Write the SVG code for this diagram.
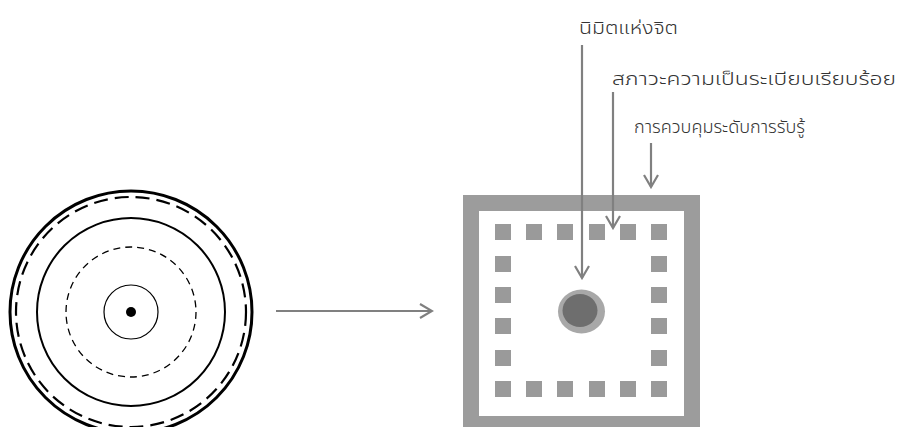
<svg xmlns="http://www.w3.org/2000/svg" width="898" height="427" viewBox="0 0 898 427">
<defs>
<style>
.lbl{font-family:Tahoma,"Noto Sans Thai","Noto Sans","DejaVu Sans",sans-serif;font-size:17px;font-weight:300;fill:#333}
.con{stroke:#808080;stroke-width:2.2;fill:none}
.sq{fill:#9a9a9a}
.ring{fill:none;stroke:#000}
</style>
<marker id="ah" viewBox="0 0 16 16" refX="14" refY="8" markerWidth="16" markerHeight="16" markerUnits="userSpaceOnUse" orient="auto">
<path d="M2,1 L14,8 L2,15" fill="none" stroke="#808080" stroke-width="2.2"/>
</marker>
</defs>
<rect width="898" height="427" fill="#fff"/>
<g id="rings">
<circle class="ring" cx="131" cy="312" r="121" stroke-width="3"/>
<circle class="ring" cx="131" cy="312" r="115" stroke-width="2.2" stroke-dasharray="14,7"/>
<circle class="ring" cx="131" cy="312" r="94" stroke-width="2"/>
<circle class="ring" cx="131" cy="312" r="65" stroke-width="1.3" stroke-dasharray="7,5"/>
<circle class="ring" cx="131" cy="312" r="27" stroke-width="1.2"/>
<circle cx="131" cy="312" r="5" fill="#000"/>
</g>
<g id="field">
<rect x="471" y="203" width="221" height="221" fill="#fff" stroke="#9c9c9c" stroke-width="16"/>
<g class="sq">
<rect x="495" y="224" width="16" height="16"/><rect x="526" y="224" width="16" height="16"/><rect x="557" y="224" width="16" height="16"/><rect x="589" y="224" width="16" height="16"/><rect x="620" y="224" width="16" height="16"/><rect x="651" y="224" width="16" height="16"/>
<rect x="495" y="256" width="16" height="16"/><rect x="651" y="256" width="16" height="16"/>
<rect x="495" y="287" width="16" height="16"/><rect x="651" y="287" width="16" height="16"/>
<rect x="495" y="318" width="16" height="16"/><rect x="651" y="318" width="16" height="16"/>
<rect x="495" y="350" width="16" height="16"/><rect x="651" y="350" width="16" height="16"/>
<rect x="495" y="381" width="16" height="16"/><rect x="526" y="381" width="16" height="16"/><rect x="557" y="381" width="16" height="16"/><rect x="589" y="381" width="16" height="16"/><rect x="620" y="381" width="16" height="16"/><rect x="651" y="381" width="16" height="16"/>
</g>
<ellipse cx="581.5" cy="311.5" rx="23.5" ry="22" fill="#a8a8a8"/>
<ellipse cx="580" cy="310.5" rx="17.5" ry="16.5" fill="#6e6e6e"/>
</g>
<g id="label-nimit"><text class="lbl" x="579" y="34" textLength="99" lengthAdjust="spacingAndGlyphs">นิมิตแห่งจิต</text></g>
<g id="label-order"><text class="lbl" x="612" y="85" textLength="284" lengthAdjust="spacingAndGlyphs">สภาวะความเป็นระเบียบเรียบร้อย</text></g>
<g id="label-control"><text class="lbl" x="634" y="133" textLength="171" lengthAdjust="spacingAndGlyphs">การควบคุมระดับการรับรู้</text></g>
<g id="connectors">
<line class="con" x1="276" y1="311" x2="432" y2="311" marker-end="url(#ah)"/>
<line class="con" x1="582" y1="45" x2="582" y2="278" marker-end="url(#ah)"/>
<line class="con" x1="613" y1="92" x2="613" y2="228" marker-end="url(#ah)"/>
<line class="con" x1="651" y1="143" x2="651" y2="187" marker-end="url(#ah)"/>
</g>
</svg>
